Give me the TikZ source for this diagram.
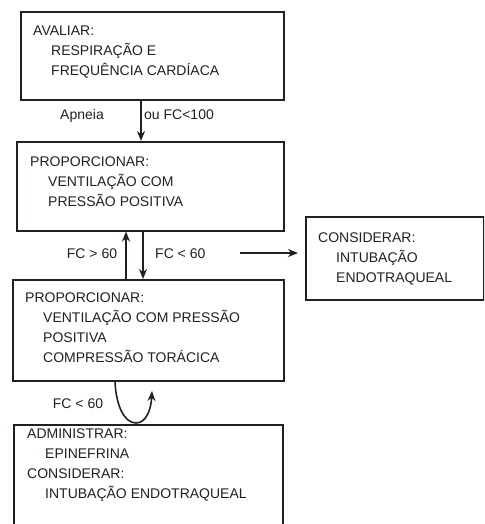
\documentclass[tikz,border=0pt]{standalone}
\usepackage{fontspec}
\setmainfont{Liberation Sans}
\usetikzlibrary{arrows.meta}
\definecolor{ink}{HTML}{231F20}
\tikzset{
  box/.style={draw=ink, line width=1.6pt, anchor=north west, inner sep=0pt},
  txt/.style={anchor=north west, inner sep=0pt, align=left, text=ink,
    font=\fontsize{14}{20}\selectfont},
  lbl/.style={inner sep=0pt, text=ink, font=\fontsize{14}{16}\selectfont},
  arr/.style={draw=ink, line width=1.6pt, -{Stealth[length=10pt,width=8pt]}},
}
\newcommand{\ind}{\hspace*{18pt}}
\begin{document}
\begin{tikzpicture}[x=1pt,y=-1pt]
\clip (0,0) rectangle (484,524);
\useasboundingbox (0,0) rectangle (484,524);
% boxes
\node[box, minimum width=263pt, minimum height=88pt] (b1) at (20,11) {};
\node[box, minimum width=267pt, minimum height=89pt] (b2) at (16,141) {};
\node[box, minimum width=178pt, minimum height=83pt] (b3) at (305,216) {};
\node[box, minimum width=271pt, minimum height=101pt] (b4) at (12,279) {};
\node[box, minimum width=269pt, minimum height=120pt] (b5) at (13,424) {};
% texts
\node[txt] (t1) at (33,26) {AVALIAR:\\\ind RESPIRAÇÃO E\\\ind FREQUÊNCIA CARDÍACA};
\node[txt] (t2) at (30,157) {PROPORCIONAR:\\\ind VENTILAÇÃO COM\\\ind PRESSÃO POSITIVA};
\node[txt] (t3) at (318,233) {CONSIDERAR:\\\ind INTUBAÇÃO\\\ind ENDOTRAQUEAL};
\node[txt] (t4) at (25,293) {PROPORCIONAR:\\\ind VENTILAÇÃO COM PRESSÃO\\\ind POSITIVA\\\ind COMPRESSÃO TORÁCICA};
\node[txt] (t5) at (27,429) {ADMINISTRAR:\\\ind EPINEFRINA\\CONSIDERAR:\\\ind INTUBAÇÃO ENDOTRAQUEAL};
% connector coordinates
\coordinate (x1) at (141,0);
\coordinate (xu) at (126,0);
\coordinate (xd) at (143,0);
\coordinate (h0) at (240,253);
% connectors
\draw[arr] (b1.south -| x1) -- (b2.north -| x1);
\draw[arr] (b4.north -| xu) -- (b2.south -| xu);
\draw[arr] (b2.south -| xd) -- (b4.north -| xd);
\draw[arr, shorten >=7pt] (h0) -- (b3.west |- h0);
\coordinate (cs) at (115,0);
\coordinate (ce) at (152,391);
\draw[arr] (b4.south -| cs) .. controls (116,405) and (124,423) .. (136,423)
  .. controls (146,423) and (151,410) .. (ce);
% labels
\node[lbl, anchor=base] (l1) at (82,119) {Apneia};
\node[lbl, anchor=base west] (l2) at (144,119) {ou FC<100};
\node[lbl, anchor=base] (l3) at (92,258) {FC > 60};
\node[lbl, anchor=base west] (l4) at (155,258) {FC < 60};
\node[lbl, anchor=base] (l5) at (78,408) {FC < 60};
\end{tikzpicture}
\end{document}
